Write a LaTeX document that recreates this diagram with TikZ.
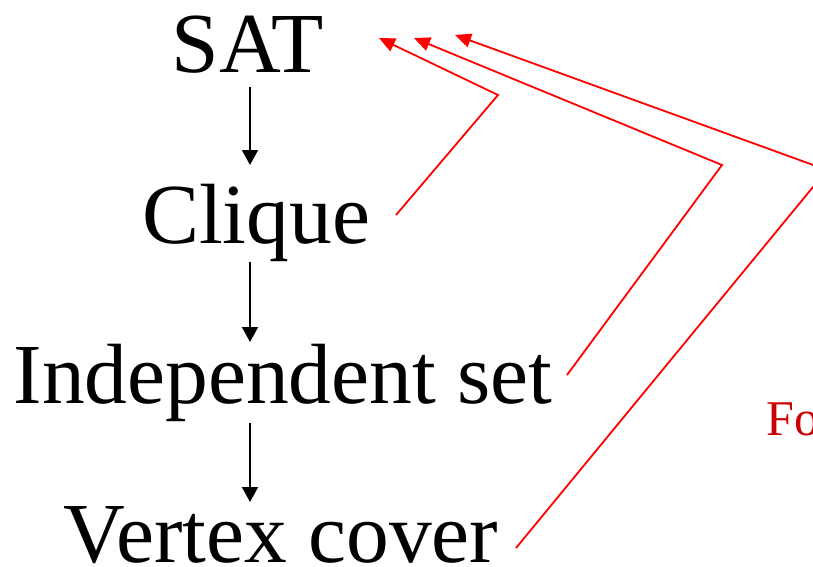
\documentclass[tikz,border=0pt]{standalone}
\usepackage{fontspec}
\setmainfont{Liberation Serif}
\usetikzlibrary{arrows.meta}
\definecolor{fored}{RGB}{204,0,0}
\begin{document}
\begin{tikzpicture}[x=1pt,y=-1pt,
  term/.style={anchor=base,inner sep=0pt,font=\fontsize{85.5}{86}\selectfont},
  down/.style={draw,line width=1.8pt,-{Triangle[length=15pt,width=16pt]}},
  back/.style={draw,red,line width=1.8pt,-{Triangle[length=16pt,width=14pt]}}]
\useasboundingbox (0,0) rectangle (813,566);
\node[term] (sat) at (248,72) {SAT};
\node[term] (clique) at (256,243) {Clique};
\node[term] (indep) at (283,403) {Independent set};
\node[term] (vc) at (281,562) {Vertex cover};
\node[anchor=base west,inner sep=0pt,text=fored,font=\fontsize{50}{50}\selectfont] (fo) at (766,435) {Fo};

% chain of reductions
\coordinate (spine) at (250,0);
\path[down,shorten <=15pt,shorten >=78pt] (sat.base -| spine) -- (clique.base -| spine);
\path[down,shorten <=19pt,shorten >=61pt] (clique.base -| spine) -- (indep.base -| spine);
\path[down,shorten <=20pt,shorten >=60pt] (indep.base -| spine) -- (vc.base -| spine);

% red lines back to SAT
\coordinate (from1) at (396,215);
\coordinate (bend1) at (498,95);
\coordinate (to1) at (379,38);
\coordinate (from2) at (567,375);
\coordinate (bend2) at (722,165);
\coordinate (to2) at (414,38);
\coordinate (from3) at (516,548);
\coordinate (bend3) at (827,170);
\coordinate (to3) at (455,35);
\path[back] (from1) -- (bend1) -- (to1);
\path[back] (from2) -- (bend2) -- (to2);
\path[back] (from3) -- (bend3) -- (to3);
\end{tikzpicture}
\end{document}
